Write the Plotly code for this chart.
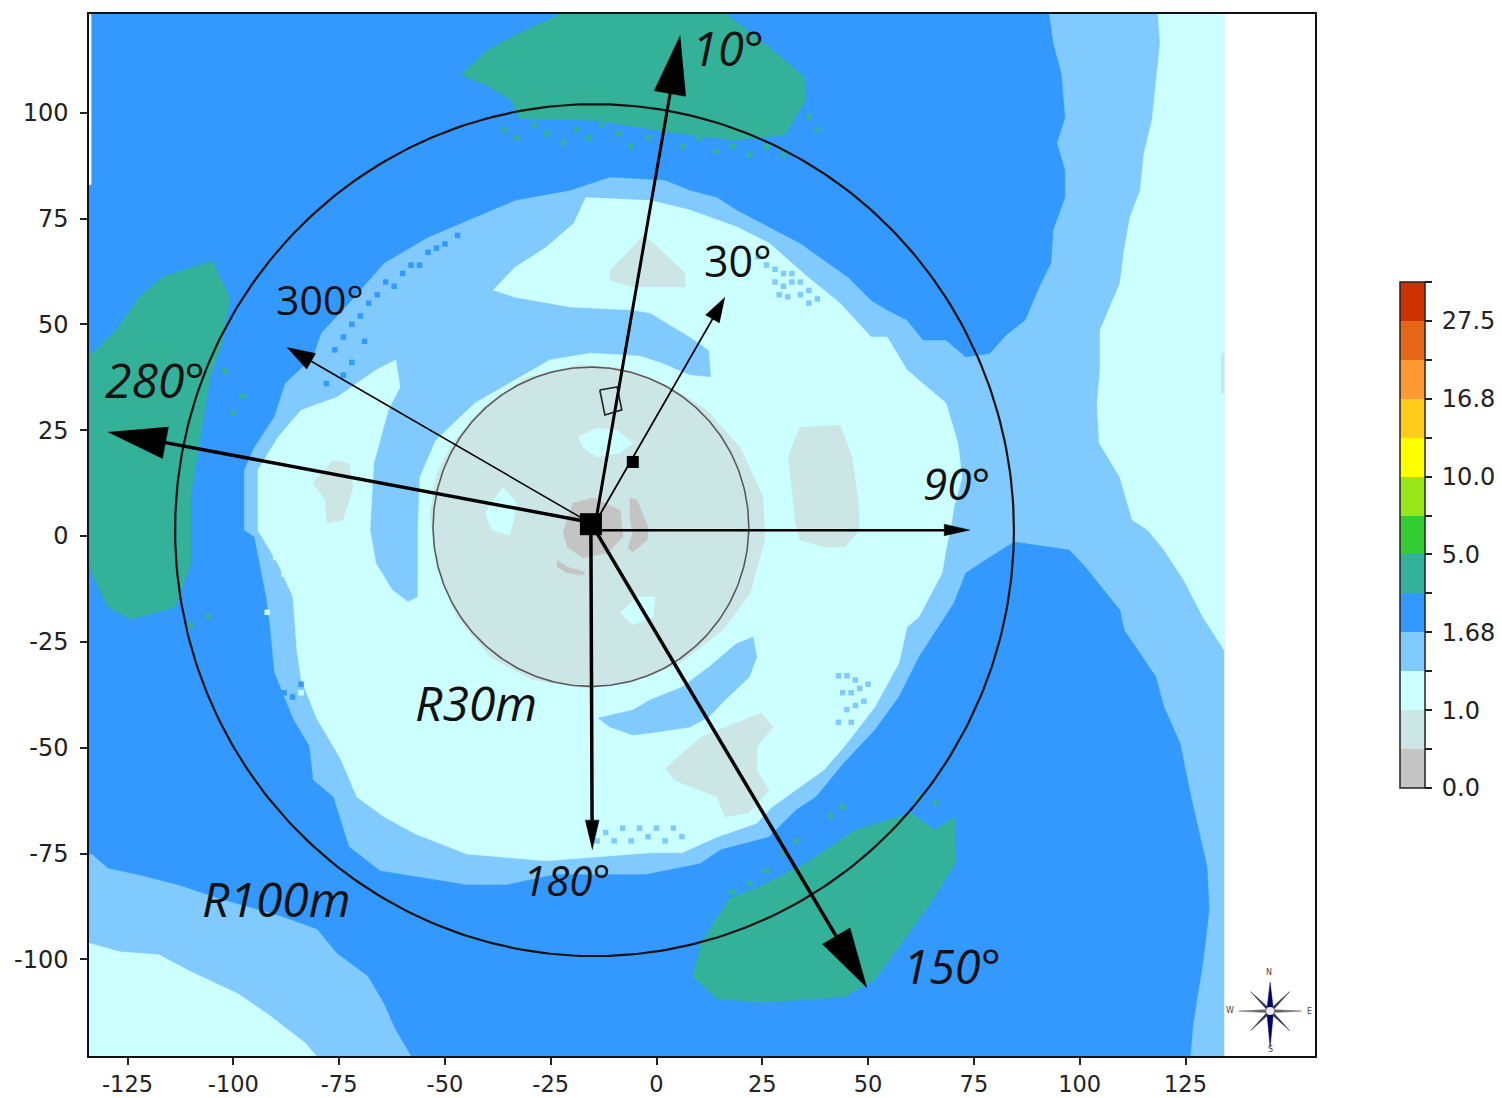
import numpy as np
import plotly.graph_objects as go

# ---- colour classes of the colour bar (bottom to top) ----
BAND_COLORS = ["#C4C4C4", "#CCE5E5", "#CCFFFF", "#80CAFF", "#3399FF", "#33B199", "#33CC33",
               "#99E619", "#FFFF00", "#FFCC19", "#FF9933", "#E56619", "#CC3300"]
BAND_TICKS = list(range(14))
BAND_LABELS = ["0.0", "", "1.0", "", "1.68", "", "5.0", "", "10.0", "", "16.8", "", "27.5", ""]
GRAY, PALE, CYAN, LIGHT, BLUE, TEAL = BAND_COLORS[:6]

XTICKS = [-125, -100, -75, -50, -25, 0, 25, 50, 75, 100, 125]
YTICKS = [-100, -75, -50, -25, 0, 25, 50, 75, 100]
XRANGE = [-134.1, 155.6]
YRANGE = [-122.8, 123.3]

# ---- iso-class regions (x, y in metres) ----
MAP_AREA = [(-134.3, 123.5), (134.1, 123.5), (134.1, -123), (-134.3, -123)]
BLANK_STRIP = [(-134.3, 123.5), (-133.6, 123.5), (-133.6, 83), (-134.3, 83)]
BLUE_ZONE = [(-134.3, 123.5), (92.7, 123.5), (93.7, 116.4), (95.6, 109.3), (96.5, 98.9), (94.6, 92.8), (96.5, 86.4),
             (96.5, 80.0), (93.7, 72.2), (93.2, 64.5), (90.4, 58.8), (87.1, 51.0), (82.6, 47.5), (78.8, 43.2),
             (73.1, 42.3), (68.4, 46.3), (63.0, 46.3), (59.2, 51.0), (54.5, 53.4), (50.7, 55.7), (45.3, 61.1),
             (39.6, 65.2), (33.9, 69.2), (26.6, 73.0), (19.0, 77.0), (14.3, 80.0), (7.9, 81.7), (2.0, 84.1),
             (-11.0, 84.8), (-20.4, 81.7), (-33.4, 79.3), (-42.9, 75.3), (-54.0, 70.6), (-64.4, 64.5), (-72.7, 55.0),
             (-79.3, 47.9), (-81.2, 42.3), (-87.8, 36.1), (-90.4, 28.1), (-95.1, 21.0), (-97.5, 15.6), (-97.5, 1.4),
             (-95.1, -0.2), (-92.3, -14.4), (-91.3, -22.2), (-90.4, -32.1), (-85.9, -43.2), (-82.1, -49.6),
             (-81.2, -57.6), (-76.4, -61.6), (-72.7, -73.4), (-65.3, -79.1), (-44.8, -82.4), (-35.3, -82.4),
             (-24.2, -80.0), (-2.7, -80.0), (10.3, -77.4), (15.2, -74.1), (26.6, -71.1), (33.0, -64.7), (37.7, -61.6),
             (44.3, -53.6), (51.6, -45.8), (57.3, -38.0), (62.0, -28.6), (70.3, -15.8), (73.1, -8.7), (78.8, -5.0),
             (84.5, -1.4), (97.5, -3.3), (101.3, -7.3), (109.5, -17.5), (110.5, -22.2), (118.0, -33.3), (119.9, -40.4),
             (123.7, -48.9), (126.3, -61.6), (130.1, -78.2), (130.6, -88.3), (129.1, -100.8), (126.8, -115.0),
             (126.1, -123.0), (-57.8, -123.0), (-61.6, -116.6), (-64.4, -110.3), (-68.2, -103.9), (-75.5, -98.5),
             (-80.2, -92.8), (-89.4, -89.5), (-103.6, -85.5), (-112.8, -82.4), (-122.3, -80.0), (-129.6, -78.4),
             (-133.4, -75.1), (-134.3, -75.1)]
CYAN_RIGHT = [(118.5, 123.5), (119.0, 116.4), (118.0, 107.0), (117.1, 98.2), (115.2, 90.4), (114.3, 81.7), (111.9, 75.3),
              (110.5, 67.5), (109.5, 59.7), (104.8, 48.6), (104.8, 39.2), (104.1, 31.4), (104.6, 22.0), (109.5, 13.9),
              (112.4, 3.8), (116.1, 1.4), (119.9, -3.3), (124.6, -10.4), (129.1, -19.1), (134.1, -26.9), (134.1, 123.5)]
CYAN_CORNER = [(-134.3, -96.1), (-126.8, -98.2), (-117.6, -98.9), (-110, -102.9), (-98.9, -108.1), (-91.3, -113.3),
               (-83.1, -119.7), (-80.2, -123), (-134.3, -123)]
CYAN_DISK = [(-16.7, 80.0), (-19.5, 73.9), (-26.1, 68.2), (-33.4, 63.5), (-38.6, 58.1), (-33.4, 56.4), (-20.4, 54.1),
             (-5.6, 53.4), (-1.5, 52.7), (7.9, 47.0), (12.4, 43.9), (12.9, 37.5), (7.9, 38.0), (1.3, 40.8), (-3.9, 42.5),
             (-15.7, 43.2), (-25.2, 41.6), (-33.4, 36.8), (-42.9, 31.4), (-52.1, 22.7), (-55.9, 13.9), (-56.4, 1.4),
             (-56.4, -14.4), (-58.7, -15.6), (-62.5, -12.7), (-66.3, -6.4), (-67.7, 1.4), (-66.8, 17.2), (-63.4, 29.7),
             (-60.6, 35.2), (-61.6, 41.6), (-66.3, 39.2), (-75.5, 32.8), (-84.0, 29.7), (-89.4, 23.4), (-92.3, 18.7),
             (-94.2, 15.6), (-94.2, 1.4), (-89.4, -6.6), (-85.9, -14.4), (-85, -26.7), (-84.0, -33.8), (-80.2, -43.2),
             (-74.6, -52.7), (-70.8, -61.6), (-64.4, -66.3), (-56.8, -70.4), (-44.8, -75.1), (-26.1, -76.7),
             (-1.5, -74.8), (6.0, -74.8), (14.3, -71.1), (23.7, -67.8), (27.3, -64.0), (39.6, -55.2), (44.3, -49.8),
             (51.6, -40.4), (57.3, -30.0), (59.2, -21.5), (62.0, -19.1), (67.5, -8.7), (68.4, -3.3), (69.4, 1.4),
             (70.3, 6.8), (72.2, 13.9), (71.2, 22.0), (68.4, 31.4), (59.2, 39.2), (54.5, 47.0), (50.7, 47.0), (43.4, 55.0),
             (35.8, 61.1), (26.6, 69.2), (19.0, 73.0), (7.9, 77.0), (-1.5, 79.3)]
LIGHT_SOUTH = [(22.8, -23.8), (23.7, -28.6), (21.9, -33.3), (16.2, -38.7), (12.4, -42.7), (7.9, -45.1), (-1.5, -46.5),
               (-5.6, -47.0), (-11, -45.1), (-13.8, -43.0), (-5.6, -41.1), (-1.5, -38.7), (6, -35.7), (12.4, -30.9),
               (19, -25.3)]
PALE_DISK = [(-18.8, 40.4), (-8.6, 39.7), (3.2, 35.2), (11.9, 29.7), (19.7, 21.0), (25.2, 9.2), (25.6, -0.9), (22.1, -13.5),
             (15.7, -22.2), (5.6, -30), (-4.6, -34), (-16.4, -35.9), (-29.2, -34), (-39.3, -28.6), (-47.1, -19.1),
             (-51.9, -7.3), (-53.5, 5.4), (-51.9, 14.9), (-48.1, 22), (-41, 30.5), (-30.6, 37.5)]
CYAN_HOLE_N = [(-18.5, 23.4), (-14.1, 25.5), (-9.3, 25), (-5.6, 22), (-8.6, 19.6), (-14.1, 18.7), (-17.4, 21)]
CYAN_HOLE_W = [(-40.5, 5.4), (-36.3, 11.6), (-33, 7.8), (-34.6, 0.2), (-38.9, 1.4)]
CYAN_HOLE_S = [(-8.6, -18.2), (-4.6, -14.4), (-0.4, -14.4), (-0.8, -19.1), (-5.6, -21)]
GRAY_CORE = [(-22.1, 0.7), (-19.7, 7.8), (-15, 9), (-8.6, 6.1), (-7.9, -0.2), (-11.7, -4), (-17.4, -5.2), (-21.1, -2.6)]
GRAY_ARC_E = [(-6.3, 9), (-4.6, 8.5), (-2, 2.1), (-2.2, -0.9), (-5.6, -3.8), (-6.7, -2.8), (-5.6, 0.7), (-6.3, 4.5)]
GRAY_ARC_S = [(-23.5, -5.7), (-21.1, -7.3), (-16.9, -8.5), (-17.4, -9.2), (-21.1, -8.7), (-23.5, -7.3)]
PALE_N = [(-11, 62.8), (-5.6, 68.2), (-3.2, 71), (-0.8, 69.2), (6.7, 62.1), (6.7, 58.8), (-5.6, 58.8), (-11, 60.4)]
PALE_W = [(-81.2, 12.5), (-76.4, 17.9), (-72.7, 17.2), (-71.7, 11.6), (-74.1, 3.8), (-77.9, 3.1), (-78.3, 8.5)]
PALE_E = [(31.1, 18.7), (33.9, 25.7), (43.4, 26.2), (46.2, 18.7), (47.9, 6.1), (47.9, 1.4), (44.5, -2.6), (39.6, -2.6),
          (33.9, -0.9), (32.7, 3.8)]
PALE_S = [(2.2, -54.8), (10.5, -47.5), (24.7, -41.8), (27.5, -45.1), (23.7, -49.8), (23.7, -55.2), (26.6, -60), (21.9, -65.4),
          (16.2, -66.3), (14.3, -61.6), (4.1, -57.6)]
PALE_EDGE = [(133.4, 43.2), (134.1, 43.2), (134.1, 33.8), (133.4, 33.8)]
TEAL_N = [(-22.3, 123.5), (16.2, 123.5), (26.6, 115.5), (34.9, 108.4), (35.1, 102.7), (30.4, 94.7), (18.1, 93.5), (3.2, 95.4),
          (-14.8, 98.2), (-32.5, 98.7), (-34.4, 103), (-40.1, 106.5), (-46.2, 108.9), (-40.1, 114.7), (-32.5, 118.8)]
TEAL_W = [(-105, 65), (-116.6, 61.2), (-122.3, 56.4), (-127.7, 48.6), (-133.4, 43.2), (-134.3, 43.2), (-134.3, -5.7),
          (-133.4, -9), (-129.6, -16.8), (-124.2, -19.6), (-113.8, -16.8), (-110, -6.4), (-110, 10.1), (-108.1, 22),
          (-105.5, 37.5), (-102.7, 45.5), (-100.8, 56.4)]
TEAL_S = [(70.3, -66.2), (70.8, -77), (65.8, -85), (62, -90.5), (55.4, -99.4), (51.6, -104.8), (44.3, -108.8), (25.6, -110.1),
          (14.3, -109.3), (8.6, -104.1), (10.5, -96.1), (17.1, -85.7), (24.7, -82.6), (35.8, -77), (46.9, -69.4),
          (60.1, -65.4), (65.8, -69.4)]

REGIONS = [(MAP_AREA, LIGHT), (BLUE_ZONE, BLUE), (CYAN_RIGHT, CYAN), (CYAN_CORNER, CYAN), (TEAL_N, TEAL), (TEAL_W, TEAL),
           (TEAL_S, TEAL), (CYAN_DISK, CYAN), (LIGHT_SOUTH, LIGHT), (PALE_DISK, PALE), (CYAN_HOLE_N, CYAN),
           (CYAN_HOLE_W, CYAN), (CYAN_HOLE_S, CYAN), (GRAY_CORE, GRAY), (GRAY_ARC_E, GRAY), (GRAY_ARC_S, GRAY),
           (PALE_N, PALE), (PALE_W, PALE), (PALE_E, PALE), (PALE_S, PALE), (PALE_EDGE, PALE), (BLANK_STRIP, "#FFFFFF")]

# ---- isolated map cells along class edges ----
SPECK_LIGHT_X = [26, 28, 30, 32, 28, 30, 32, 34, 36, 34, 36, 38, 31, 24, 29, 43, 45, 47, 44, 46, 48, 50, 45, 47, 49, 43, 46,
                 -10, -6, -2, 2, 6, -4, 0, 4, -12, -8, -14]
SPECK_LIGHT_Y = [64, 63, 62, 62, 60, 59, 60, 60, 58, 57, 55, 56, 56.5, 66, 57, -33, -33, -34, -37, -37, -36, -35, -41, -40,
                 -39, -44, -44, -72, -72, -71, -72, -71, -69, -69, -69, -70, -69, -72]
SPECK_BLUE_X = [-76, -74, -72, -70, -68, -66, -64, -62, -60, -58, -56, -54, -52, -50, -47, -72, -69, -74, -78, -88, -86, -84]
SPECK_BLUE_Y = [44, 47, 50, 52, 55, 57, 60, 59, 62, 64, 64, 67, 68, 69, 71, 41, 46, 38, 36, -37, -38, -35]
SPECK_TEAL_X = [-36, -33, -29, -26, -22, -19, -16, -13, -9, -6, -2, 2, 6, 10, 14, 18, 22, 26, 30, 36, 38, -102, -100, -98,
                -106, -110, 33, 30, 26, 22, 41, 44, 18, 62, 66]
SPECK_TEAL_Y = [96, 94, 97, 95, 93, 96, 94, 97, 95, 92, 94, 96, 92, 94, 91, 92, 90, 92, 90, 99, 96, 39, 29, 33, -19, -21,
                -72, -75, -79, -82, -66, -64, -84, -62, -63]
SPECK_CYAN_X = [-83, -81, -79, -77, -82, -80, -78, -76, -83, -81, -78, -84, -81, -79, -76, -90, -88, -92]
SPECK_CYAN_Y = [-13, -15, -18, -20, -24, -22, -26, -25, -31, -33, -35, -37, -39, -36, -38, -5, -9, -18]

# ---- circles: centre x, centre y, x radius, y radius ----
CIRCLE_OUTER = (-14.65, 1.4, 99.1, 100.6)
CIRCLE_INNER = (-15.5, 2.2, 37.3, 37.7)

# ---- arrows ----
ARROW_LABELS = ["10", "30", "90", "150", "180", "280", "300"]
ARROW_TAIL_X = [-14.1, -13.4, -13.4, -14.5, -15.5, -16.9, -16.9]
ARROW_TAIL_Y = [5.0, 5.0, 1.4, 1.4, 1.4, 3.5, 3.8]
ARROW_TIP_X = [5.6, 16.2, 74.1, 49.7, -15.2, -129.6, -87.3]
ARROW_TIP_Y = [118.2, 56.4, 1.4, -106.7, -74.1, 24.6, 44.6]
HEAD_LEN = [13.9, 5.9, 6.1, 14.2, 7.0, 13.8, 6.6]
HEAD_WID = [7.6, 3.8, 2.8, 7.6, 3.3, 7.6, 4.3]
SHAFT_W = [3.0, 1.8, 2.5, 3.5, 3.5, 3.5, 1.5]

# ---- markers ----
SOURCE_PT = (-15.5, 2.8)
RECEIVER_PT = (-5.6, 17.5)
BUILDING = [(-13.4, 34.5), (-9.3, 35.2), (-8.2, 29.8), (-12.2, 28.6), (-13.4, 34.5)]

# ---- texts: text, x, y, size, italic ----
TEXTS = [("R30m", -42.7, -39.3, 48, True), ("R100m", -89.9, -85.5, 48, True), ("10°", 17.0, 115.3, 47, True),
         ("30°", 19.3, 65.2, 43, False), ("300°", -79.5, 56.0, 41, False), ("280°", -118.5, 36.9, 48, True),
         ("90°", 70.8, 12.5, 44, True), ("180°", -21.2, -81.2, 42, True), ("150°", 69.8, -101.5, 47, True)]

# ---- compass rose ----
ROSE_C = (145.0, -112.2)
ROSE_N = 6.8
ROSE_S = 8.5
ROSE_WE = 7.4
ROSE_DIAG = 4.6
ROSE_LETTERS = [("N", 144.8, -103.0), ("S", 145.0, -121.2), ("W", 135.6, -112.0), ("E", 154.4, -112.2)]

fig = go.Figure()


def poly(pts, color, line=None):
    xs, ys = zip(*pts)
    fig.add_trace(go.Scatter(x=xs, y=ys, mode="lines", fill="toself", fillcolor=color,
                             line=dict(width=0.5, color=color) if line is None else line,
                             hoverinfo="skip", showlegend=False))


def spike(cx, cy, dx, dy, hw, color):
    n = np.hypot(dx, dy)
    px, py = -dy / n * hw, dx / n * hw
    poly([(cx + px, cy + py), (cx + dx, cy + dy), (cx - px, cy - py)], color)


for pts, col in REGIONS:
    poly(pts, col)

for xs, ys, col in [(SPECK_LIGHT_X, SPECK_LIGHT_Y, LIGHT), (SPECK_BLUE_X, SPECK_BLUE_Y, BLUE),
                    (SPECK_TEAL_X, SPECK_TEAL_Y, TEAL), (SPECK_CYAN_X, SPECK_CYAN_Y, CYAN)]:
    fig.add_trace(go.Scatter(x=xs, y=ys, mode="markers", hoverinfo="skip", showlegend=False,
                             marker=dict(symbol="square", size=5.5, color=col, opacity=1, line=dict(width=0))))

for (cx, cy, rx, ry), col, w in [(CIRCLE_INNER, "#5A5A5A", 1.6), (CIRCLE_OUTER, "#111111", 2.2)]:
    t = np.linspace(0, 2 * np.pi, 361)
    fig.add_trace(go.Scatter(x=cx + rx * np.cos(t), y=cy + ry * np.sin(t), mode="lines",
                             line=dict(color=col, width=w), hoverinfo="skip", showlegend=False))

fig.add_trace(go.Scatter(x=[p[0] for p in BUILDING], y=[p[1] for p in BUILDING], mode="lines",
                         line=dict(color="#222222", width=1.6), hoverinfo="skip", showlegend=False))

for i in range(len(ARROW_LABELS)):
    tx, ty, hx, hy = ARROW_TAIL_X[i], ARROW_TAIL_Y[i], ARROW_TIP_X[i], ARROW_TIP_Y[i]
    d = np.hypot(hx - tx, hy - ty)
    ux, uy = (hx - tx) / d, (hy - ty) / d
    bx, by = hx - ux * HEAD_LEN[i], hy - uy * HEAD_LEN[i]
    fig.add_trace(go.Scatter(x=[tx, bx], y=[ty, by], mode="lines", line=dict(color="black", width=SHAFT_W[i]),
                             hoverinfo="skip", showlegend=False))
    w = HEAD_WID[i] / 2
    poly([(hx, hy), (bx - uy * w, by + ux * w), (bx + uy * w, by - ux * w)], "#000000")

fig.add_trace(go.Scatter(x=[SOURCE_PT[0], RECEIVER_PT[0]], y=[SOURCE_PT[1], RECEIVER_PT[1]], mode="markers",
                         marker=dict(symbol="square", color="black", size=[22, 12], opacity=1, line=dict(width=0)),
                         hoverinfo="skip", showlegend=False))

# compass rose
cx, cy = ROSE_C
spike(cx, cy, -ROSE_WE, 0, 0.4, "#666666")
spike(cx, cy, ROSE_WE, 0, 0.4, "#666666")
spike(cx, cy, 0, ROSE_N, 0.8, "#000066")
spike(cx, cy, 0, -ROSE_S, 0.8, "#000066")
for sx, sy in [(1, 1), (1, -1), (-1, 1), (-1, -1)]:
    spike(cx, cy, sx * ROSE_DIAG, sy * ROSE_DIAG, 0.35, "#333355")
fig.add_trace(go.Scatter(x=[cx], y=[cy], mode="markers", marker=dict(color="white", size=8, opacity=0.9),
                         hoverinfo="skip", showlegend=False))

# colour bar
n_bands = len(BAND_COLORS)
scale = []
for i, c in enumerate(BAND_COLORS):
    scale += [[i / n_bands, c], [(i + 1) / n_bands, c]]
fig.add_trace(go.Scatter(
    x=[None], y=[None], mode="markers", hoverinfo="skip", showlegend=False,
    marker=dict(color=[0], cmin=0, cmax=n_bands, colorscale=scale, showscale=True,
                colorbar=dict(thickness=25, thicknessmode="pixels", len=506, lenmode="pixels",
                              x=(1400 - 89) / 1226, xanchor="left", xpad=0, y=(1056 - 282) / 1042, yanchor="top", ypad=0,
                              outlinewidth=1.5, outlinecolor="#222222", tickmode="array", tickvals=BAND_TICKS,
                              ticktext=["\u2009" + s if s else "" for s in BAND_LABELS], ticks="outside", ticklen=7,
                              tickwidth=1.5, tickcolor="#222222",
                              tickfont=dict(family="DejaVu Sans", size=24, color="#222222")))))

annots = []
for txt, x, y, size, ital in TEXTS:
    annots.append(dict(x=x, y=y, text=txt, showarrow=False, xanchor="center", yanchor="middle",
                       font=dict(family="Open Sans", size=size, color="#111111", style="italic" if ital else "normal")))
for txt, x, y in ROSE_LETTERS:
    annots.append(dict(x=x, y=y, text=txt, showarrow=False, xanchor="center", yanchor="middle",
                       font=dict(family="DejaVu Sans", size=8, color="#444444")))

axis = dict(showgrid=False, zeroline=False, showline=True, linecolor="#111111", linewidth=1.5, mirror=True,
            ticks="outside", ticklen=7, tickwidth=1.5, tickcolor="#222222",
            tickfont=dict(family="DejaVu Sans", size=24, color="#222222"), tickmode="array")
fig.update_layout(width=1502, height=1098, margin=dict(l=89, r=187, t=14, b=42, autoexpand=False), paper_bgcolor="white",
                  plot_bgcolor="white", showlegend=False, annotations=annots,
                  xaxis=dict(axis, range=XRANGE, tickvals=XTICKS, ticktext=[str(v) for v in XTICKS],
                             tickfont=dict(family="DejaVu Sans", size=22.5, color="#222222")),
                  yaxis=dict(axis, range=YRANGE, tickvals=YTICKS, ticktext=[str(v) for v in YTICKS], ticklabelstandoff=7))

fig.write_html("out.html", config=dict(displayModeBar=False),
               post_script="document.body.style.margin='0';")
